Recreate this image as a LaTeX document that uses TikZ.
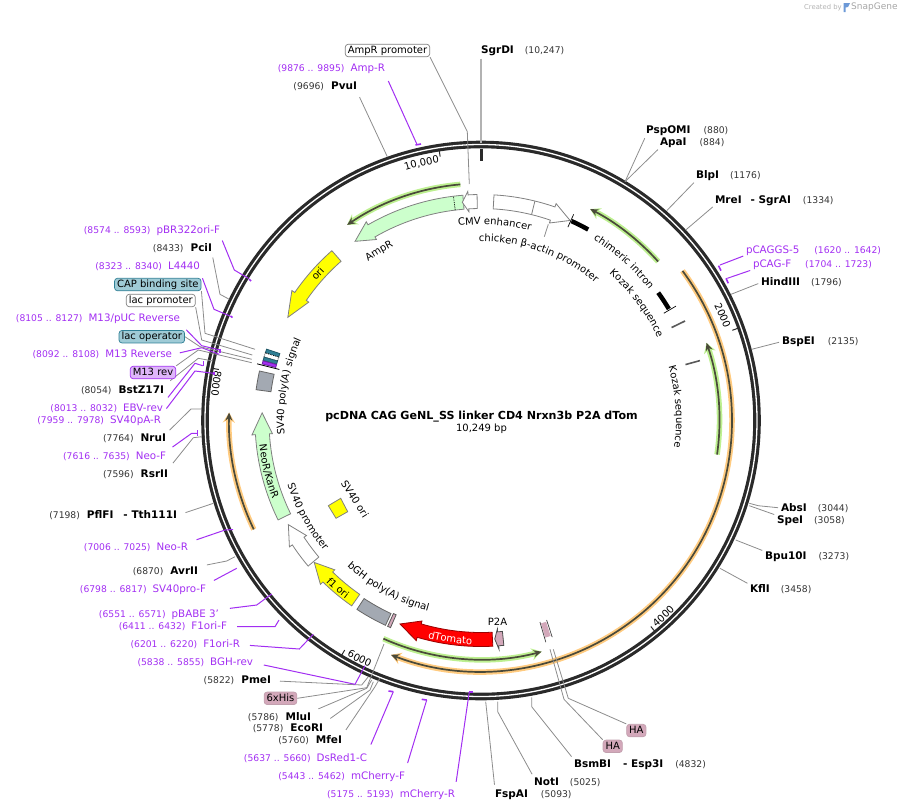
\documentclass[tikz,border=0pt]{standalone}
\usepackage{fontspec}
\setmainfont{DejaVu Sans}
\usepackage{xcolor}
\usepackage{tikz}
\usetikzlibrary{arrows.meta,decorations.text}
\definecolor{primerpurple}{HTML}{A22EF2}
\definecolor{numgrey}{HTML}{333333}
\definecolor{ringdark}{HTML}{2A2A2A}
\definecolor{linegrey}{HTML}{8C8C8C}
\definecolor{capblue}{HTML}{9FCBD6}
\definecolor{capedge}{HTML}{2F7F95}
\definecolor{mauve}{HTML}{D3A8BA}
\definecolor{ampgreen}{HTML}{CCFFCC}
\definecolor{boxgrey}{HTML}{A3A9B2}
\definecolor{halogreen}{HTML}{BDF090}
\definecolor{haloorange}{HTML}{FFCB80}
\definecolor{rundark}{HTML}{4A4A3A}
\definecolor{geneyellow}{HTML}{FFFF00}
\tikzset{>=stealth,
	site/.style={font=\fontsize{10.5}{12}\selectfont\bfseries, inner sep=0pt, outer sep=0pt, text height=8pt, text depth=2pt},
	primer/.style={font=\fontsize{10.3}{12}\selectfont, text=primerpurple, inner sep=0pt, outer sep=0pt, text height=8pt, text depth=2pt},
	tagbox/.style={draw, rounded corners=3pt, inner xsep=2.5pt, inner ysep=1.5pt, text height=7.5pt, text depth=2pt, line width=0.7pt},
	cut/.style={draw=linegrey, line width=0.8pt, shorten <=3pt},
	tagcut/.style={draw=linegrey, line width=0.8pt},
	oligo/.style={draw=primerpurple, line width=1pt, shorten <=3pt},
	bar/.style={draw=primerpurple, line width=1.6pt},
	genebox/.style={draw=gray, line width=0.8pt}
}
\newcommand{\bpnum}[1]{{\mdseries\fontsize{9.2}{11}\selectfont #1}}
\newcommand{\sitenum}[1]{{\mdseries\fontsize{9.2}{11}\selectfont\color{numgrey} #1}}
\newcommand{\genearrow}[4]{\draw[#1] (#2:212) arc (#2:#3:212) -- (#3:209) -- (#4:219) -- (#3:229.5) -- (#3:226) arc (#3:#2:226) -- cycle;}
\newcommand{\arcbox}[5]{\draw[#1] (#2:#4) arc (#2:#3:#4) -- (#3:#5) arc (#3:#2:#5) -- cycle;}
\newcommand{\halorun}[4]{
	\draw[#1, line width=5.5pt, -{Stealth[length=10pt,width=12pt]}] (#3:#2) arc (#3:#4:#2);
	\draw[rundark, line width=1.7pt, -{Stealth[length=8pt,width=7pt]}] (#3:#2) arc (#3:#4:#2);}
\newcommand{\arctext}[5][]{\path[decorate, decoration={text along path, text align=center, text={|\fontsize{10}{12}\selectfont #1|#2}}] (#4:#3) arc (#4:#5:#3);}
\begin{document}
\begin{tikzpicture}[x=1pt, y=-1pt, every node/.style={font=\fontsize{10}{12}\selectfont}]
	\useasboundingbox (0,0) rectangle (901,811);
	% SnapGene mark
	\node[text=gray!60, font=\fontsize{6.8}{8}\selectfont, anchor=west, inner sep=0pt] (createdby) at (804,7.5) {Created by};
	\fill[cyan!50!blue!60] (843.5,3) -- (850,3) -- (848,7) -- (845.5,7.5) -- (845.5,12) -- (843.5,12) -- cycle;
	\node[text=gray!70, font=\fontsize{9}{10}\selectfont, anchor=west, inner sep=0pt] (snapgene) at (851,7.5) {SnapGene};
	% Title
	\node[font=\fontsize{11.1}{12}\selectfont\bfseries] (title) at (481.5,417) {pcDNA CAG GeNL\_SS linker CD4 Nrxn3b P2A dTom};
	\node (length) at (481.5,429) {10,249 bp};

	\begin{scope}[shift={(481,420.5)}]
		% Backbone
		\draw[ringdark, line width=7.6pt] (0,0) circle (276);
		\draw[white, line width=1.3pt] (0,0) circle (276);
		% Scale ticks
		\draw[ringdark, line width=1pt] (-19.75:267) -- (-19.75:273);
		\draw[ringdark, line width=1pt] (50.5:267) -- (50.5:273);
		\draw[ringdark, line width=1pt] (120.7:267) -- (120.7:273);
		\draw[ringdark, line width=1pt] (191:267) -- (191:273);
		\draw[ringdark, line width=1pt] (261.2:267) -- (261.2:273);
		\draw[ringdark, line width=3pt] (-90:272) -- (-90:260);
		\arctext{2000}{260}{-34.5}{-12.5}
		\arctext{4000}{271}{58}{36}
		\arctext{6000}{271}{128}{106}
		\arctext{8000}{271}{199}{177}
		\arctext{10,000}{261}{245}{269}
		% Thin arrows
		\halorun{halogreen}{237}{-95}{-124.4}
		\halorun{halogreen}{238}{-41.9}{-62.7}
		\halorun{halogreen}{238.5}{8.2}{-19}
		\halorun{halogreen}{239}{114.1}{75.3}
		\halorun{haloorange}{251}{-36.6}{111}
		\halorun{haloorange}{252}{154.4}{181.8}
		% Top features
		\genearrow{genebox, fill=ampgreen}{265.4}{240}{234.9}
		\draw[black, densely dotted, line width=0.8pt] (263:212) -- (263:226);
		\genearrow{genebox, fill=white}{269}{266.7}{265.1}
		\genearrow{genebox, fill=white}{-86.7}{-70.9}{-66}
		\draw[gray, line width=0.8pt] (-76.2:212) -- (-76.2:226);
		\genearrow{genebox, fill=geneyellow}{228.7}{214.5}{208.1}
		% Kozak marks
		\draw[black, line width=4.5pt] (-65.6:219) arc (-65.6:-60.7:219);
		\draw[black, line width=0.7pt] (-65.8:212) -- (-65.8:226);
		\draw[black, line width=4.5pt] (-35.8:218.5) arc (-35.8:-30.7:218.5);
		\draw[black, line width=0.7pt] (-30.4:212) -- (-30.4:226);
		\draw[gray!70!black, line width=1.6pt] (-26:212) -- (-26:227);
		\draw[gray!70!black, line width=1.6pt] (-15.3:212) -- (-15.3:227);
		% Left features
		\arcbox{genebox, fill=capedge, draw=capedge!70!black}{197.4}{198.4}{212}{226}
		\arcbox{genebox, fill=white, draw=black, densely dotted}{196.3}{197.4}{212}{226}
		\arcbox{genebox, fill=capedge, draw=capedge!70!black}{195.4}{196.3}{212}{226}
		\arcbox{genebox, fill=primerpurple, draw=primerpurple!70!black}{194.5}{195.3}{212}{226}
		\draw[black, line width=0.8pt] (194.2:208) -- (194.2:231);
		\arcbox{genebox, fill=boxgrey, draw=gray!80!black}{187.8}{192.6}{212}{227}
		\genearrow{genebox, fill=ampgreen}{153.9}{176.4}{182}
		\genearrow{genebox, fill=white}{139.9}{146.6}{151.6}
		\genearrow{genebox, fill=geneyellow}{124.9}{134.4}{139.6}
		\arcbox{genebox, fill=boxgrey, draw=gray!80!black}{115}{123.3}{213}{226}
		% Lower features
		\arcbox{genebox, fill=mauve, draw=gray!70!black}{113.6}{114.4}{212}{226}
		\genearrow{draw=red!60!black, line width=0.8pt, fill=red}{87}{106.4}{111.7}
		\genearrow{genebox, fill=mauve, draw=gray!60!black}{84.2}{85.5}{86.4}
		\arcbox{genebox, fill=mauve, draw=mauve}{72.2}{73.4}{212}{226}
		\draw[gray!50!black, line width=0.7pt] (71.8:210) -- (71.8:228);
		\draw[gray!50!black, line width=0.7pt] (73.7:210) -- (73.7:231);
		% Labels along the tracks
		\arctext{AmpR}{195}{229}{249}
		\arctext{CMV enhancer}{196}{-106}{-66}
		\arctext{chicken β-actin promoter}{179}{-103}{-38}
		\arctext{chimeric intron}{213}{-66}{-30}
		\arctext{Kozak sequence}{195}{-57}{-17}
		\arctext{Kozak sequence}{195}{-24}{16}
		\arctext{ori}{216}{212}{232}
		\arctext{SV40 poly(A) signal}{197}{165}{215}
		\arctext{NeoR/KanR}{223}{181}{152}
		\arctext{SV40 promoter}{204}{170}{132}
		\arctext{f1 ori}{224}{142}{119}
		\arctext{bGH poly(A) signal}{198}{140}{98}
		\arctext[\color{white}]{dTomato}{224}{112}{84}
	\end{scope}
	% Round labels on the inside
	\node[rotate=-58] (sv40ori) at (355,499) {SV40 ori};
	\filldraw[fill=geneyellow, draw=gray, line width=0.8pt] (328.3,505.7) -- (340.7,498.3) -- (347.7,511.7) -- (336,518.3) -- cycle;
	\node (p2a) at (497.5,621.5) {P2A};
	\coordinate (kozakend) at (548.3,224.3);
	\coordinate (kozakstart) at (544.3,236.7);
	\draw[tagcut] (kozakstart) -- (kozakend);

	% Top
	\node[tagbox, draw=gray] (AmpRpro) at (387.5,50.5) {AmpR promoter};
	\coordinate (AmpRproend) at (469.3,184); \draw[tagcut] (AmpRpro.south east) -- (467.3,131.7) -- (AmpRproend);
	\node[primer, anchor=east] (AmpRF) at (385,68.7) {\bpnum{(9876 .. 9895)}\hspace{6pt}Amp-R};
	\coordinate (AmpRFend) at (417,144.5); \draw[oligo, shorten <=8pt] (AmpRF.south east) -- (AmpRFend);
	\draw[bar] (415.5,145) -- (421,144);
	\node[site, anchor=east] (PvuI) at (357,86.7) {\sitenum{(9696)}\hspace{7pt}PvuI};
	\coordinate (PvuIend) at (387.3,156.7); \draw[cut, shorten <=6pt] (PvuI.south east) -- (PvuIend);
	\node[site, anchor=west] (SgrDI) at (481,50.5) {SgrDI\hspace{11pt}\sitenum{(10,247)}};
	\coordinate (SgrDIend) at (481,143); \draw[draw=gray!60, line width=1.2pt, shorten <=3pt] (SgrDI.south west) -- (SgrDIend);

	% Right
	\node[site, anchor=west] (PspOMI) at (646,130.5) {PspOMI\hspace{13pt}\sitenum{(880)}};
	\node[site, anchor=west] (ApaI) at (660,142.5) {ApaI\hspace{13pt}\sitenum{(884)}};
	\coordinate (Apaend) at (625,181.7);
	\draw[cut] (PspOMI.south west) -- (Apaend); \draw[cut] (ApaI.south west) -- (Apaend);
	\node[site, anchor=west] (BlpI) at (696,175.5) {BlpI\hspace{11pt}\sitenum{(1176)}};
	\coordinate (BlpIend) at (666.7,210.7); \draw[cut] (BlpI.south west) -- (BlpIend);
	\node[site, anchor=west] (MreI) at (715,200) {MreI\hspace{9pt}- SgrAI\hspace{12pt}\sitenum{(1334)}};
	\coordinate (MreIend) at (685.7,230); \draw[cut] (MreI.south west) -- (MreIend);
	\node[primer, anchor=west] (pCAGGS) at (746,250) {pCAGGS-5\hspace{15pt}\bpnum{(1620 .. 1642)}};
	\coordinate (pCAGGSend) at (720,265); \draw[oligo] (pCAGGS.south west) -- (pCAGGSend);
	\draw[bar] (718.5,265.7) -- (721,270.7);
	\node[primer, anchor=west] (pCAGF) at (753,264.5) {pCAG-F\hspace{14pt}\bpnum{(1704 .. 1723)}};
	\coordinate (pCAGFend) at (727.3,278.3); \draw[oligo] (pCAGF.south west) -- (pCAGFend);
	\draw[bar] (726,278.3) -- (728.3,283.3);
	\node[site, anchor=west] (HindIII) at (761,282.5) {HindIII\hspace{11pt}\sitenum{(1796)}};
	\coordinate (HindIIIend) at (731,294.3); \draw[cut] (HindIII.west) -- (HindIIIend);
	\node[site, anchor=west] (BspEI) at (782,341.5) {BspEI\hspace{13pt}\sitenum{(2135)}};
	\coordinate (BspEIend) at (751.7,349.3); \draw[cut] (BspEI.west) -- (BspEIend);
	\node[site, anchor=west] (AbsI) at (781,508) {AbsI\hspace{11pt}\sitenum{(3044)}};
	\coordinate (AbsIend) at (749.3,503.3); \draw[cut] (AbsI.west) -- (758.3,505.7) -- (AbsIend);
	\node[site, anchor=west] (SpeI) at (777,520.5) {SpeI\hspace{11pt}\sitenum{(3058)}};
	\coordinate (SpeIend) at (749.3,505.7); \draw[cut] (SpeI.north west) -- (SpeIend);
	\node[site, anchor=west] (Bpu10I) at (765,556.5) {Bpu10I\hspace{12pt}\sitenum{(3273)}};
	\coordinate (Bpu10Iend) at (735.7,540); \draw[cut] (Bpu10I.north west) -- (Bpu10Iend);
	\node[site, anchor=west] (KflI) at (750,589.7) {KflI\hspace{11pt}\sitenum{(3458)}};
	\coordinate (KflIend) at (720,568.3); \draw[cut] (KflI.north west) -- (KflIend);

	% Bottom
	\node[tagbox, fill=mauve, draw=mauve!80!gray] (HAa) at (636.3,730.5) {HA};
	\coordinate (HAaend) at (553.3,649.3); \draw[tagcut] (HAa.north west) -- (568.3,698.3) -- (HAaend);
	\node[tagbox, fill=mauve, draw=mauve!80!gray] (HAb) at (612.7,746.3) {HA};
	\coordinate (HAbend) at (550,649.3); \draw[tagcut] (HAb.north west) -- (564,699.3) -- (HAbend);
	\node[site, anchor=west] (BsmBI) at (574,764.7) {BsmBI\hspace{12pt}- Esp3I\hspace{12pt}\sitenum{(4832)}};
	\coordinate (BsmBIend) at (531.7,697.3); \draw[cut, shorten <=4pt] (BsmBI.north west) -- (531.7,706.7) -- (BsmBIend);
	\node[site, anchor=west] (NotI) at (534,782.7) {NotI\hspace{11pt}\sitenum{(5025)}};
	\coordinate (NotIend) at (497.7,701.7); \draw[cut, shorten <=4pt] (NotI.north west) -- (497.7,711.7) -- (NotIend);
	\node[site, anchor=west] (FspAI) at (495,794.7) {FspAI\hspace{13pt}\sitenum{(5093)}};
	\coordinate (FspAIend) at (485.7,701.7); \draw[cut, shorten <=5pt] (FspAI.north west) -- (FspAIend);
	\node[primer, anchor=east] (mCherryR) at (455,794.7) {\bpnum{(5175 .. 5193)}\hspace{6pt}mCherry-R};
	\coordinate (mCherryRend) at (469.3,691.7); \draw[oligo, shorten <=8pt] (mCherryR.north east) -- (mCherryRend);
	\draw[bar] (469,691.7) -- (472.7,691.7);
	\node[primer, anchor=east] (mCherryF) at (405,776.7) {\bpnum{(5443 .. 5462)}\hspace{6pt}mCherry-F};
	\coordinate (mCherryFend) at (426.7,700); \draw[oligo, shorten <=9pt] (mCherryF.north east) -- (mCherryFend);
	\draw[bar] (421.7,699.3) -- (426.7,700);
	\node[primer, anchor=east] (DsRed) at (367,758.7) {\bpnum{(5637 .. 5660)}\hspace{6pt}DsRed1-C};
	\coordinate (DsRedend) at (393.3,691.7); \draw[oligo, shorten <=10pt] (DsRed.north east) -- (DsRedend);
	\draw[bar] (388.5,691) -- (393.3,691.7);

	% Lower left
	\node[site, anchor=east] (MfeI) at (342,740.7) {\sitenum{(5760)}\hspace{7pt}MfeI};
	\coordinate (MfeIend) at (380,678); \draw[cut, shorten <=7pt] (MfeI.north east) -- (375,686.7) -- (MfeIend);
	\node[site, anchor=east] (EcoRI) at (323,728.7) {\sitenum{(5778)}\hspace{7pt}EcoRI};
	\coordinate (EcoRIend) at (373.3,681.7); \draw[cut, shorten <=9pt] (EcoRI.north east) -- (370,690) -- (EcoRIend);
	\node[site, anchor=east] (MluI) at (311,717) {\sitenum{(5786)}\hspace{7pt}MluI};
	\coordinate (MluIend) at (371.7,680); \draw[cut, shorten <=8pt] (MluI.north east) -- (366.7,688.3) -- (MluIend);
	\node[tagbox, fill=mauve, draw=mauve!80!gray] (His) at (280.5,698.3) {6xHis};
	\coordinate (Hisend) at (384,644); \draw[tagcut] (His.east) -- (366.7,687.7) -- (Hisend);
	\node[site, anchor=east] (PmeI) at (271,680.7) {\sitenum{(5822)}\hspace{7pt}PmeI};
	\coordinate (PmeIend) at (368.3,676.7); \draw[cut, shorten <=9pt] (PmeI.east) -- (361.7,685) -- (PmeIend);
	\node[primer, anchor=east] (BGHrev) at (253,662.7) {\bpnum{(5838 .. 5855)}\hspace{6pt}BGH-rev};
	\coordinate (BGHrevend) at (365,665.7); \draw[oligo, shorten <=11pt] (BGHrev.east) -- (355,684.3) -- (BGHrevend);
	\node[primer, anchor=east] (FlR) at (240,644.7) {\bpnum{(6201 .. 6220)}\hspace{6pt}F1ori-R};
	\coordinate (FlRend) at (313.3,634.3); \draw[oligo, shorten <=10pt] (FlR.east) -- (299.3,649) -- (FlRend);
	\node[primer, anchor=east] (FlF) at (227,626.7) {\bpnum{(6411 .. 6432)}\hspace{6pt}F1ori-F};
	\coordinate (FlFend) at (279,620); \draw[oligo, shorten <=10pt] (FlF.east) -- (275,626.7) -- (FlFend);
	\node[primer, anchor=east] (pBABE) at (219,614.7) {\bpnum{(6551 .. 6571)}\hspace{6pt}pBABE 3'};
	\coordinate (pBABEend) at (271.7,594); \draw[oligo, shorten <=11pt] (pBABE.north east) -- (256.7,605) -- (pBABEend);
	\node[primer, anchor=east] (SVproF) at (206,589.7) {\bpnum{(6798 .. 6817)}\hspace{6pt}SV40pro-F};
	\coordinate (SVproFend) at (236.7,568.3); \draw[oligo, shorten <=9pt] (SVproF.north east) -- (SVproFend);
	\node[site, anchor=east] (AvrII) at (198,571.7) {\sitenum{(6870)}\hspace{7pt}AvrII};
	\coordinate (AvrIIend) at (235,556.7); \draw[cut, shorten <=9pt] (AvrII.north east) -- (226.7,561) -- (AvrIIend);
	\node[primer, anchor=east] (NeoR) at (188,547.7) {\bpnum{(7006 .. 7025)}\hspace{6pt}Neo-R};
	\coordinate (NeoRend) at (233,529.5); \draw[oligo, shorten <=9pt] (NeoR.north east) -- (225,530) -- (NeoRend);
	\node[site, anchor=east] (PflFI) at (177,515.5) {\sitenum{(7198)}\hspace{7pt}PflFI\hspace{10pt}- Tth111I};
	\coordinate (PflFIend) at (213.3,503.3); \draw[cut, shorten <=9pt] (PflFI.east) -- (PflFIend);

	% Upper left
	\node[site, anchor=east] (RsrII) at (168,474.3) {\sitenum{(7596)}\hspace{7pt}RsrII};
	\coordinate (RsrIIend) at (201.7,436.7); \draw[cut, shorten <=8pt] (RsrII.north east) -- (193.3,437.7) -- (RsrIIend);
	\node[primer, anchor=east] (NeoF) at (166,456.7) {\bpnum{(7616 .. 7635)}\hspace{6pt}Neo-F};
	\coordinate (NeoFend) at (197.3,433.3); \draw[oligo, shorten <=8pt] (NeoF.north east) -- (191.7,433.3) -- (NeoFend);
	\draw[bar] (197.3,430) -- (197.3,435.5);
	\node[site, anchor=east] (NruI) at (166,438.7) {\sitenum{(7764)}\hspace{7pt}NruI};
	\coordinate (NruIend) at (201.7,409); \draw[cut, shorten <=5pt] (NruI.north east) -- (191,409) -- (NruIend);
	\node[primer, anchor=east] (SVpAR) at (161,420.7) {\bpnum{(7959 .. 7978)}\hspace{6pt}SV40pA-R};
	\coordinate (SVpARend) at (213.3,373.3); \draw[oligo, shorten <=9pt] (SVpAR.north east) -- (195,371) -- (SVpARend);
	\draw[bar] (214,372) -- (214,375);
	\node[primer, anchor=east] (EBVrev) at (163,408.7) {\bpnum{(8013 .. 8032)}\hspace{6pt}EBV-rev};
	\coordinate (EBVrevend) at (202.7,365.7); \draw[oligo, shorten <=8pt] (EBVrev.north east) -- (195,363.3) -- (EBVrevend);
	\draw[bar] (203.3,361) -- (203.3,366);
	\node[site, anchor=east] (BstZ) at (164,390.7) {\sitenum{(8054)}\hspace{7pt}BstZ17I};
	\coordinate (BstZend) at (213,361); \draw[cut, shorten <=8pt] (BstZ.north east) -- (198.3,358.3) -- (BstZend);
	\node[tagbox, fill=primerpurple!35, draw=primerpurple] (M13rev) at (153,372.5) {M13 rev};
	\coordinate (M13revend) at (251.7,362.7); \draw[tagcut] (M13rev.north east) -- (198.3,350) -- (M13revend);
	\node[primer, anchor=east] (M13Rev) at (172,354.7) {\bpnum{(8092 .. 8108)}\hspace{6pt}M13 Reverse};
	\coordinate (M13Revend) at (219.3,354.3); \draw[oligo, shorten <=8pt] (M13Rev.east) -- (201.7,347.7) -- (M13Revend);
	\node[tagbox, fill=capblue, draw=capedge] (lacop) at (151.8,336.7) {lac operator};
	\coordinate (lacopend) at (251.7,359.3); \draw[tagcut] (lacop.east) -- (200,346.7) -- (lacopend);
	\node[primer, anchor=east] (M13pUC) at (180,318.3) {\bpnum{(8105 .. 8127)}\hspace{6pt}M13/pUC Reverse};
	\coordinate (M13pUCend) at (220,350); \draw[oligo, shorten <=9pt] (M13pUC.south east) -- (201.7,345.7) -- (M13pUCend);
	\draw[bar] (220,349) -- (220,353);
	\node[tagbox, draw=gray] (lacpro) at (160.8,300.5) {lac promoter};
	\coordinate (lacproend) at (252.3,355); \draw[tagcut] (lacpro.south east) -- (201.7,340) -- (lacproend);
	\node[tagbox, fill=capblue, draw=capedge] (CAP) at (157.8,284.5) {CAP binding site};
	\coordinate (CAPend) at (255,349.3); \draw[tagcut] (CAP.south east) -- (205,333.3) -- (CAPend);
	\node[primer, anchor=east] (L4440) at (200,266.7) {\bpnum{(8323 .. 8340)}\hspace{6pt}L4440};
	\coordinate (L4440end) at (230,316); \draw[oligo, shorten <=7pt] (L4440.south east) -- (214,309.3) -- (L4440end);
	\draw[bar] (230.5,316) -- (232.5,317.5);
	\node[site, anchor=east] (PciI) at (212,248.6) {\sitenum{(8433)}\hspace{7pt}PciI};
	\coordinate (PciIend) at (229.3,299.3); \draw[cut, shorten <=4pt] (PciI.south east) -- (220,294.3) -- (PciIend);
	\node[primer, anchor=east] (pBR) at (220,230) {\bpnum{(8574 .. 8593)}\hspace{6pt}pBR322ori-F};
	\coordinate (pBRend) at (248.3,278.3); \draw[oligo, shorten <=6pt] (pBR.south east) -- (234.3,270) -- (pBRend);
	\draw[bar] (249,279) -- (251,281);
\end{tikzpicture}
\end{document}
